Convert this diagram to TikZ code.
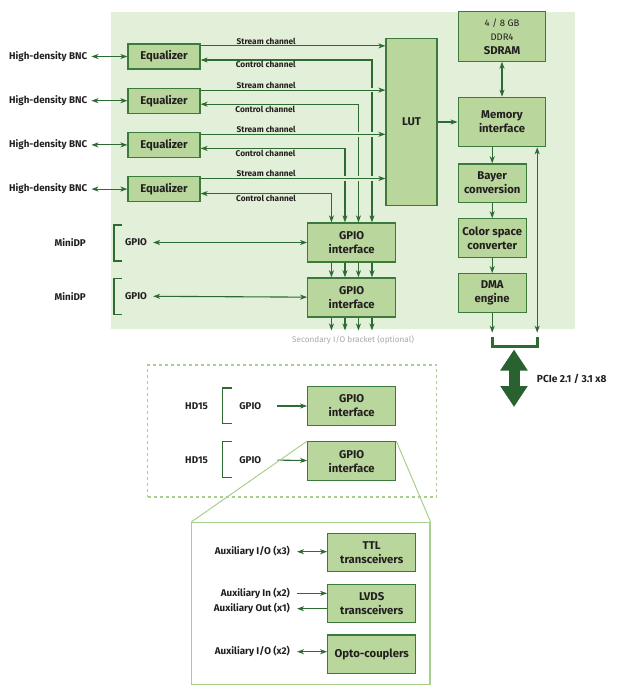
\documentclass[tikz,border=0pt]{standalone}
\usepackage{fontspec}
\setmainfont{Fira Sans}
\usetikzlibrary{arrows.meta,positioning}

\definecolor{panelgreen}{HTML}{E2EFD9}
\definecolor{boxgreen}{HTML}{B9D69C}
\definecolor{boxline}{HTML}{3B7A3B}
\definecolor{arrowgreen}{HTML}{2E6B33}
\definecolor{palegreen}{HTML}{A9CF8C}
\definecolor{pciegreen}{HTML}{2A6130}
\definecolor{textdark}{HTML}{231F20}
\definecolor{graytext}{HTML}{A8A8A8}

\begin{document}
\begin{tikzpicture}[x=1pt,y=-1pt,>={Stealth[length=7pt,width=5pt,inset=2pt]},
  box/.style={draw=boxline,fill=boxgreen,line width=1.2pt,align=center,inner sep=1pt,
    text=textdark,font=\bfseries\fontsize{11.3}{14}\selectfont},
  eqbox/.style={box,minimum width=72pt,minimum height=25pt},
  iobox/.style={box,minimum width=88pt,minimum height=39pt},
  procbox/.style={box,minimum width=68pt,minimum height=38.4pt},
  lbl/.style={inner sep=1pt,text=textdark,font=\bfseries\fontsize{9.8}{11}\selectfont},
  chan/.style={inner sep=1pt,text=textdark,font=\bfseries\fontsize{8.3}{9}\selectfont},
  link/.style={draw=arrowgreen,line width=1.1pt},
  gapmask/.style={preaction={draw=panelgreen,-,line width=4.5pt,shorten <=110pt,shorten >=8pt}},
  brk/.style={draw=arrowgreen,line width=1.2pt},
  zoomline/.style={draw=palegreen,line width=1pt},
  pcie/.style={draw=pciegreen,line width=11pt,{Triangle[length=21pt,width=26pt]}-{Triangle[length=21pt,width=26pt]}}]
  \useasboundingbox (0,0) rectangle (619,696);
  \fill[panelgreen] (111,12) rectangle (575,329);

  % equalizers and connectors
  \node[eqbox] (eq1) at (164,56.5) {Equalizer};
  \node[eqbox] (eq2) [below=18pt of eq1] {Equalizer};
  \node[eqbox] (eq3) [below=18pt of eq2] {Equalizer};
  \node[eqbox] (eq4) [below=18pt of eq3] {Equalizer};
  \node[lbl] (bnc1) [left=39pt of eq1] {High-density BNC};
  \node[lbl] (bnc2) [left=39pt of eq2] {High-density BNC};
  \node[lbl] (bnc3) [left=39pt of eq3] {High-density BNC};
  \node[lbl] (bnc4) [left=39pt of eq4] {High-density BNC};

  % processing column
  \node[box,minimum width=51pt,minimum height=167.4pt] (lut) at (411.5,122) {LUT};
  \node[box,minimum width=87.6pt,minimum height=49.4pt] (mem) [right=20pt of lut] {Memory\\interface};
  \node[box,minimum width=87.6pt,minimum height=49.3pt] (sdram) [above=35pt of mem]
    {{\mdseries\fontsize{9.5}{12}\selectfont 4 / 8 GB}\\{\mdseries\fontsize{9.5}{12}\selectfont DDR4}\\SDRAM};
  \node[procbox] (bayer) [below=16pt of mem.south west,anchor=north west] {Bayer\\conversion};
  \node[procbox] (color) [below=15.3pt of bayer] {Color space\\converter};
  \node[procbox] (dma) [below=15.3pt of color] {DMA\\engine};

  % GPIO on the card
  \node[iobox] (gp1) at (351.7,242.5) {GPIO\\interface};
  \node[iobox] (gp2) [below=14.7pt of gp1] {GPIO\\interface};
  \node[lbl,anchor=east] (mdp1) at (87,242.5) {MiniDP};
  \node[lbl,anchor=east] (mdp2) at (87,296.2) {MiniDP};
  \node[lbl] (gpl1) at (136,242.5) {GPIO};
  \node[lbl] (gpl2) at (136,296.2) {GPIO};
  \node[inner sep=1pt,text=graytext,font=\fontsize{8.2}{9}\selectfont] (seclbl) at (353,339.5)
    {Secondary I/O bracket (optional)};

  % secondary bracket
  \node[draw=palegreen,line width=1.5pt,dash pattern=on 3pt off 3pt,
    minimum width=289pt,minimum height=132pt] (sec) at (292,430.8) {};
  \node[iobox] (gp3) at (351.7,406) {GPIO\\interface};
  \node[iobox] (gp4) [below=15pt of gp3] {GPIO\\interface};
  \node[lbl,anchor=east] (hd1) at (209,406) {HD15};
  \node[lbl,anchor=east] (hd2) at (209,459.7) {HD15};
  \node[lbl] (gpl3) at (250.3,406) {GPIO};
  \node[lbl] (gpl4) at (250.3,459.7) {GPIO};

  % auxiliary detail
  \node[draw=palegreen,line width=1.2pt,minimum width=238.3pt,minimum height=161.6pt] (aux) at (310.9,603.5) {};
  \node[iobox,minimum height=38.4pt] (ttl) at (371.7,552.5) {TTL\\transceivers};
  \node[iobox,minimum height=38.4pt] (lvds) [below=11.2pt of ttl] {LVDS\\transceivers};
  \node[iobox,minimum height=38.4pt] (opto) [below=11.2pt of lvds] {Opto-couplers};
  \node[lbl,anchor=east] (aux1) at (291,551.7) {Auxiliary I/O (x3)};
  \node[lbl,anchor=east] (aux2) at (291,593.3) {Auxiliary In (x2)};
  \node[lbl,anchor=east] (aux3) at (291,608.7) {Auxiliary Out (x1)};
  \node[lbl,anchor=east] (aux4) at (291,651.7) {Auxiliary I/O (x2)};

  \coordinate (v1) at ([xshift=20.25pt]gp1.north);
  \coordinate (v2) at ([xshift=6.75pt]gp1.north);
  \coordinate (v3) at ([xshift=-6.75pt]gp1.north);
  \coordinate (v4) at ([xshift=-20.25pt]gp1.north);
  \coordinate (c1) at ([yshift=-3.5pt]eq1.east);
  \coordinate (c2) at ([yshift=-3.5pt]eq2.east);
  \coordinate (c3) at ([yshift=-3.5pt]eq3.east);
  \coordinate (c4) at ([yshift=-4.5pt]eq4.east);
  \coordinate (s1) at ([yshift=-2.5pt]eq1.north east);
  \coordinate (s2) at ([yshift=-2.5pt]eq2.north east);
  \coordinate (s3) at ([yshift=-2.5pt]eq3.north east);
  \coordinate (s4) at ([yshift=-2.5pt]eq4.north east);

  % control channels
  \draw[link,<->] (v1) -- (v1 |- c1) -- node[chan,below,pos=0.62] {Control channel} (c1);
  \draw[link,<->] (v2) -- (v2 |- c2) -- node[chan,below,pos=0.59] {Control channel} (c2);
  \draw[link,<->] (v3) -- (v3 |- c3) -- node[chan,below,pos=0.55] {Control channel} (c3);
  \draw[link,<->] (v4) -- (v4 |- c4) -- node[chan,below,pos=0.5] {Control channel} (c4);
  % stream channels
  \draw[link,->,gapmask] (s1) -- node[chan,above,pos=0.355] {Stream channel} (s1 -| lut.west);
  \draw[link,->,gapmask] (s2) -- node[chan,above,pos=0.355] {Stream channel} (s2 -| lut.west);
  \draw[link,->,gapmask] (s3) -- node[chan,above,pos=0.355] {Stream channel} (s3 -| lut.west);
  \draw[link,->,gapmask] (s4) -- node[chan,above,pos=0.355] {Stream channel} (s4 -| lut.west);

  \path[link,<->,shorten <=3pt]
  (bnc1) edge (eq1)
  (bnc2) edge (eq2)
  (bnc3) edge (eq3)
  (bnc4) edge (eq4)
  (gpl1) edge[shorten <=5pt] (gp1)
  (gpl2) edge[shorten <=5pt] (gp2)
  (sdram) edge[shorten <=0pt] (mem);

  \path[link,->]
  (lut) edge (mem)
  (bayer) edge (color)
  (color) edge (dma)
  (gpl3) edge[shorten <=15pt] (gp3)
  (gpl4) edge[shorten <=15pt] (gp4);
  \draw[link,->] (mem.south -| bayer.north) -- (bayer.north);

  % GPIO buses
  \draw[link,->] ([xshift=-20.25pt]gp1.south) -- ([xshift=-20.25pt]gp2.north);
  \draw[link,->] ([xshift=-6.75pt]gp1.south) -- ([xshift=-6.75pt]gp2.north);
  \draw[link,->] ([xshift=6.75pt]gp1.south) -- ([xshift=6.75pt]gp2.north);
  \draw[link,->] ([xshift=20.25pt]gp1.south) -- ([xshift=20.25pt]gp2.north);
  \draw[link,->] ([xshift=-20.25pt]gp2.south) -- ++(0,13);
  \draw[link,->] ([xshift=-6.75pt]gp2.south) -- ++(0,13);
  \draw[link,->] ([xshift=6.75pt]gp2.south) -- ++(0,13);
  \draw[link,->] ([xshift=20.25pt]gp2.south) -- ++(0,13);

  % connector brackets
  \draw[brk] (122,225) -| (114,261) -- (122,261);
  \draw[brk] (122,278.5) -| (114,314.5) -- (122,314.5);
  \draw[brk] (231.7,388) -| (222.3,423.5) -- (231.7,423.5);
  \draw[brk] (231.7,441.7) -| (222.3,477.3) -- (231.7,477.3);

  % PCIe output
  \coordinate (brl) at ([yshift=-24pt]dma.south);
  \coordinate (brr) at ([xshift=45pt]brl);
  \draw[link,->,shorten >=4pt] (dma) -- (brl);
  \draw[link,<->,shorten >=4pt] (mem.south -| brr) -- (brr);
  \draw[draw=arrowgreen,line width=3pt] (brl) -- ++(0,10) -| (brr);
  \coordinate (pcit) at (514,349.5);
  \coordinate (pcib) at (514,407);
  \draw[pcie] (pcit) -- (pcib);
  \node[lbl,anchor=west,font=\bfseries\fontsize{10.2}{11}\selectfont] (pcilbl) at (535.7,379) {PCIe 2.1 / 3.1 x8};

  % zoom lines
  \draw[zoomline] (gp4.north west) -- (aux.north west);
  \draw[zoomline] (gp4.north east) -- (aux.north east);

  \path[link,<->,shorten <=6pt]
  (aux1) edge (aux1 -| ttl.west)
  (aux4) edge (aux4 -| opto.west);
  \draw[link,->,shorten <=6pt] (aux2.east) -- (aux2.east -| lvds.west);
  \draw[link,<-,shorten <=6pt] (aux3.east) -- (aux3.east -| lvds.west);
\end{tikzpicture}
\end{document}
